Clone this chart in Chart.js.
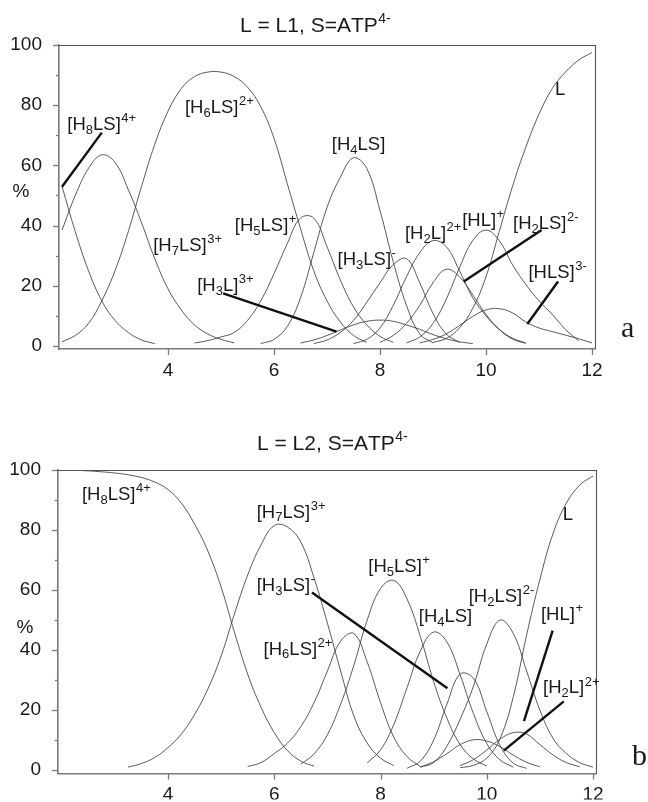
<!DOCTYPE html>
<html><head><meta charset="utf-8">
<script src="https://cdn.jsdelivr.net/npm/chart.js@4.4.1/dist/chart.umd.min.js"></script>
<style>
html,body{margin:0;padding:0;background:#fff;width:648px;height:802px;overflow:hidden}
canvas{position:absolute;left:0}
#ca{top:0}
#cb{top:390px}
</style></head><body>
<canvas id="ca" width="648" height="390"></canvas>
<canvas id="cb" width="648" height="412"></canvas>
<script>
const _ = null;
// pH grid shared by all species
const pH = [2,2.25,2.5,2.75,3,3.25,3.5,3.75,4,4.25,4.5,4.75,5,5.25,5.5,5.75,6,6.25,6.5,6.75,7,7.25,7.5,7.75,8,8.25,8.5,8.75,9,9.25,9.5,9.75,10,10.25,10.5,10.75,11,11.25,11.5,11.75,12];

// Panel a : L = L1, S = ATP4-   (% of species)
const a_H8LS = [53,38,25,15,8.5,4.5,2,0.8];
const a_H7LS = [38.5,50,59,63.5,61,52,41,29,19,12,7,4,2.2,1.0];
const a_H6LS = [1.4,3.5,7.5,15,25,38,53,67,78,85.5,89.5,91,91,89.5,86,79.5,69,54,39,25,15,8,3.5,1.2];
const a_H5LS = [_,_,_,_,_,_,_,_,_,_,1,1.8,3,4.5,8.5,15,24,34,42.5,42.5,33,22,13,7,3.2,1.2];
const a_H4LS = [_,_,_,_,_,_,_,_,_,_,_,_,_,_,_,0.8,2.2,6.5,16,31,46,56,62.5,59,45,28,13.5,4,1];
const a_H3L  = [_,_,_,_,_,_,_,_,_,_,_,_,_,_,_,_,_,_,1,2,3.5,5.3,7,8.2,8.6,8.2,7,5.5,3.8,2.4,1.4,0.8];
const a_H3LS = [_,_,_,_,_,_,_,_,_,_,_,_,_,_,_,_,_,_,_,0.8,2,4.5,8.5,14.5,21,27,29,21,10.8,4,1.2];
const a_H2L  = [_,_,_,_,_,_,_,_,_,_,_,_,_,_,_,_,_,_,_,_,_,_,0.8,2.2,6,13.5,23,31,35,33,25,16,10,5.5,2.6,1];
const a_H2LS = [_,_,_,_,_,_,_,_,_,_,_,_,_,_,_,_,_,_,_,_,_,_,_,_,1.2,3.5,7.5,13.5,21,25.5,23,17,10.5,5.5,2.3,0.9];
const a_HL   = [_,_,_,_,_,_,_,_,_,_,_,_,_,_,_,_,_,_,_,_,_,_,_,_,_,_,1,3,7.5,15.5,26,35,38.5,35,27,20.5,15,10.5,5.5,1.7];
const a_HLS  = [_,_,_,_,_,_,_,_,_,_,_,_,_,_,_,_,_,_,_,_,_,_,_,_,_,_,_,1,2.2,4,6.8,9.8,12,12.4,11,8,6,4.8,3.6,2.4,1];
const a_L    = [_,_,_,_,_,_,_,_,_,_,_,_,_,_,_,_,_,_,_,_,_,_,_,_,_,_,_,_,1.2,2.5,6,12.5,23,38,53,66,77,85.5,91,95,97.5];

// Panel b : L = L2, S = ATP4-
const b_H8LS = [100,99.9,99.7,99.4,99,98.4,97.5,96,93.5,89,82,73,61,46,32,21,12.5,6.5,3,1.3];
const b_H7LS = [_,_,_,_,_,1,2.2,4.2,7.5,12,18.5,27,38,52,65,75,81.5,81,76,64,49,33,18,9,4,1.5];
const b_H6LS = [_,_,_,_,_,_,_,_,_,_,_,_,_,_,1.2,2.5,5.5,9,14.5,22.5,33,43,45.5,36,22.5,11,4.5,1.2];
const b_H5LS = [_,_,_,_,_,_,_,_,_,_,_,_,_,_,_,_,_,_,2,5.4,11.8,22,35,50,60.5,63.2,57,44.5,29.5,17.3,8.5,3.7,1.4];
const b_H4LS = [_,_,_,_,_,_,_,_,_,_,_,_,_,_,_,_,_,_,_,_,_,_,_,2.4,6.7,15.2,27.5,39.7,46,42.7,31.7,18.8,8.9,3.4,1];
const b_H3LS = [_,_,_,_,_,_,_,_,_,_,_,_,_,_,_,_,_,_,_,_,_,_,_,_,_,_,0.6,3,10,22,32,30.6,19.5,8.2,2.3,0.6];
const b_H2LS = [_,_,_,_,_,_,_,_,_,_,_,_,_,_,_,_,_,_,_,_,_,_,_,_,_,_,_,1,2.5,8,17,28,42,50,45.5,33,20,10.5,5.5,2.5,1];
const b_H2L  = [_,_,_,_,_,_,_,_,_,_,_,_,_,_,_,_,_,_,_,_,_,_,_,_,_,_,_,1,2.8,5.5,8.5,10.1,9.7,7.8,5,2.6,1.1];
const b_HL   = [_,_,_,_,_,_,_,_,_,_,_,_,_,_,_,_,_,_,_,_,_,_,_,_,_,_,_,_,_,_,1.5,3.5,6.7,10.3,12.5,12,8.5,5,2.5,1.1];
const b_L    = [_,_,_,_,_,_,_,_,_,_,_,_,_,_,_,_,_,_,_,_,_,_,_,_,_,_,_,_,_,_,0.8,1.6,4,10.5,24.5,45,63.5,79,89,95,98];

// axis ticks
const xTickValues = [4,6,8,10,12];
const yTickLabels = [0,20,40,60,80,100];
const yTickMarks = [0,10,20,30,40,50,60,70,80,90,100];

// annotations (text + anchor in data units)
const labelsA = [
  {t:'[H_8LS]^{4+}', x:2.1,  y:71.8},
  {t:'[H_6LS]^{2+}', x:4.32, y:77.4},
  {t:'[H_7LS]^{3+}', x:3.72, y:31.6},
  {t:'[H_5LS]^{+}',  x:5.26, y:38.2},
  {t:'[H_3L]^{3+}',  x:4.55, y:18.3},
  {t:'[H_4LS]',      x:7.09, y:65.1},
  {t:'[H_3LS]^{-}',  x:7.2,  y:26.9},
  {t:'[H_2L]^{2+}',  x:8.47, y:35.5},
  {t:'[HL]^{+}',     x:9.55, y:39.9},
  {t:'[H_2LS]^{2-}', x:10.51,y:38.9},
  {t:'[HLS]^{3-}',   x:10.8, y:22.6},
  {t:'L',            x:11.3, y:83.4}
];
const leadersA = [[2.75,70.9,2.0,52.9],[5.04,17.5,7.18,4.8],[11.05,38.5,9.58,21.4],[11.36,21.4,10.78,7.3]];
const labelsB = [
  {t:'[H_8LS]^{4+}', x:2.38, y:90},
  {t:'[H_7LS]^{3+}', x:5.67, y:84.1},
  {t:'[H_3LS]^{-}',  x:5.67, y:59.7},
  {t:'[H_6LS]^{2+}', x:5.8,  y:38.5},
  {t:'[H_5LS]^{+}',  x:7.77, y:66},
  {t:'[H_4LS]',      x:8.72, y:49.4},
  {t:'[H_2LS]^{2-}', x:9.66, y:56},
  {t:'[HL]^{+}',     x:11.02,y:50},
  {t:'[H_2L]^{2+}',  x:11.06,y:25.6},
  {t:'L',            x:11.43,y:83.5}
];
const leadersB = [[6.71,59.2,9.26,27.3],[11.24,46.5,10.7,16.3],[11.45,22.9,10.32,6.5]];

const FAM = '"Liberation Sans", Arial, Helvetica, sans-serif';

function drawChem(ctx, str, x, y, size){
  let cx = x, i = 0;
  const big = size + 'px ' + FAM, small = Math.round(size*0.68) + 'px ' + FAM;
  ctx.textBaseline = 'alphabetic'; ctx.textAlign = 'left';
  while (i < str.length){
    const c = str[i];
    if (c === '_'){
      const t = str[i+1]; ctx.font = small; ctx.fillText(t, cx, y + size*0.2);
      cx += ctx.measureText(t).width; i += 2;
    } else if (c === '^'){
      const j = str.indexOf('}', i); const t = str.slice(i+2, j);
      ctx.font = small; ctx.fillText(t, cx + 0.5, y - size*0.42);
      cx += ctx.measureText(t).width + 0.5; i = j + 1;
    } else {
      ctx.font = big; ctx.fillText(c, cx, y); cx += ctx.measureText(c).width; i++;
    }
  }
}

const decor = {
  id: 'decor',
  afterDraw(chart, args, o){
    const {ctx, chartArea: ca, scales: {x, y}} = chart;
    ctx.save();
    // frame (top, right)
    ctx.strokeStyle = '#555'; ctx.lineWidth = 1.1;
    ctx.beginPath(); ctx.moveTo(ca.left, ca.top + 0.5); ctx.lineTo(ca.right + 0.5, ca.top + 0.5); ctx.lineTo(ca.right + 0.5, ca.bottom); ctx.stroke();
    // tick marks
    ctx.strokeStyle = '#7a7a7a'; ctx.lineWidth = 1.3;
    for (const v of yTickMarks){
      const py = Math.round(y.getPixelForValue(v)) + 0.5, len = (v % 20 === 0) ? 6 : 3;
      ctx.beginPath(); ctx.moveTo(ca.left - len, py); ctx.lineTo(ca.left, py); ctx.stroke();
    }
    for (const v of xTickValues){
      const px = Math.round(x.getPixelForValue(v)) + 0.5;
      ctx.beginPath(); ctx.moveTo(px, ca.bottom); ctx.lineTo(px, ca.bottom + 6); ctx.stroke();
    }
    // leader lines
    ctx.strokeStyle = '#111'; ctx.lineWidth = 2.4; ctx.lineCap = 'butt';
    for (const [x1,y1,x2,y2] of o.leaders){
      ctx.beginPath(); ctx.moveTo(x.getPixelForValue(x1), y.getPixelForValue(y1));
      ctx.lineTo(x.getPixelForValue(x2), y.getPixelForValue(y2)); ctx.stroke();
    }
    // species labels
    ctx.fillStyle = '#1a1a1a';
    for (const l of o.labels) drawChem(ctx, l.t, x.getPixelForValue(l.x), y.getPixelForValue(l.y), 18.5);
    // title
    drawChem(ctx, o.title, o.titleX, o.titleY, 21);
    // % axis label
    ctx.font = '19px ' + FAM; ctx.textAlign = 'center'; ctx.textBaseline = 'middle';
    ctx.fillText('%', o.pctX, o.pctY);
    // panel letter
    ctx.font = '30px "Liberation Serif", "Times New Roman", serif'; ctx.textAlign = 'left'; ctx.textBaseline = 'alphabetic';
    ctx.fillText(o.letter, o.letterX, o.letterY);
    ctx.restore();
  }
};

function series(arr){
  return pH.map((v, i) => ({x: v, y: arr[i]})).filter(p => p.y !== null && p.y !== undefined);
}

function makeChart(p, species){
  return new Chart(document.getElementById(p.id), {
    type: 'line',
    data: { datasets: species.map(([name, arr]) => ({
      label: name, data: series(arr), borderColor: '#3c3c3c', borderWidth: 0.85,
      pointRadius: 0, tension: 0.4, fill: false
    }))},
    options: {
      responsive: false, animation: false, devicePixelRatio: 1,
      layout: { padding: { top: p.top, right: p.w - p.right, bottom: 0, left: 0 } },
      plugins: { legend: {display: false}, tooltip: {enabled: false},
        decor: { title: p.title, titleX: p.titleX, titleY: p.titleY, pctX: p.pctX, pctY: p.pctY,
                 letter: p.letter, letterX: p.letterX, letterY: p.letterY, labels: p.labels, leaders: p.leaders } },
      scales: {
        x: { type: 'linear', position: 'bottom', min: p.xMin, max: p.xMax,
          afterBuildTicks: s => { s.ticks = xTickValues.map(v => ({value: v})); },
          afterFit: s => { s.height = p.h - p.bottom; },
          grid: { display: false, drawTicks: false },
          border: { display: true, color: '#7a7a7a', width: 1.6 },
          ticks: { color: '#1a1a1a', font: {family: FAM, size: 19}, padding: 10, maxRotation: 0, autoSkip: false }
        },
        y: { type: 'linear', position: 'left', min: p.yMin, max: p.yMax,
          afterBuildTicks: s => { s.ticks = yTickLabels.map(v => ({value: v})); },
          afterFit: s => { s.width = p.left; },
          grid: { display: false, drawTicks: false },
          border: { display: true, color: '#7a7a7a', width: 1.6 },
          ticks: { color: '#1a1a1a', font: {family: FAM, size: 19}, padding: 17 }
        }
      }
    },
    plugins: [decor]
  });
}

makeChart({id:'ca', w:648, h:390, left:59, top:45, right:595, bottom:349,
  xMin:1.943, xMax:12.057, yMin:-1, yMax:100,
  title:'L = L1, S=ATP^{4-}', titleX:240, titleY:32, pctX:21, pctY:192,
  letter:'a', letterX:621, letterY:337, labels: labelsA, leaders: leadersA},
  [['H8LS',a_H8LS],['H7LS',a_H7LS],['H6LS',a_H6LS],['H5LS',a_H5LS],['H4LS',a_H4LS],['H3L',a_H3L],
   ['H3LS',a_H3LS],['H2L',a_H2L],['H2LS',a_H2LS],['HL',a_HL],['HLS',a_HLS],['L',a_L]]);

makeChart({id:'cb', w:648, h:412, left:58, top:80, right:596, bottom:386,
  xMin:1.93, xMax:12.056, yMin:-1.16, yMax:100,
  title:'L = L2, S=ATP^{4-}', titleX:257, titleY:60, pctX:25, pctY:238,
  letter:'b', letterX:632, letterY:375, labels: labelsB, leaders: leadersB},
  [['H8LS',b_H8LS],['H7LS',b_H7LS],['H6LS',b_H6LS],['H5LS',b_H5LS],['H4LS',b_H4LS],['H3LS',b_H3LS],
   ['H2LS',b_H2LS],['H2L',b_H2L],['HL',b_HL],['L',b_L]]);
</script>
</body></html>
